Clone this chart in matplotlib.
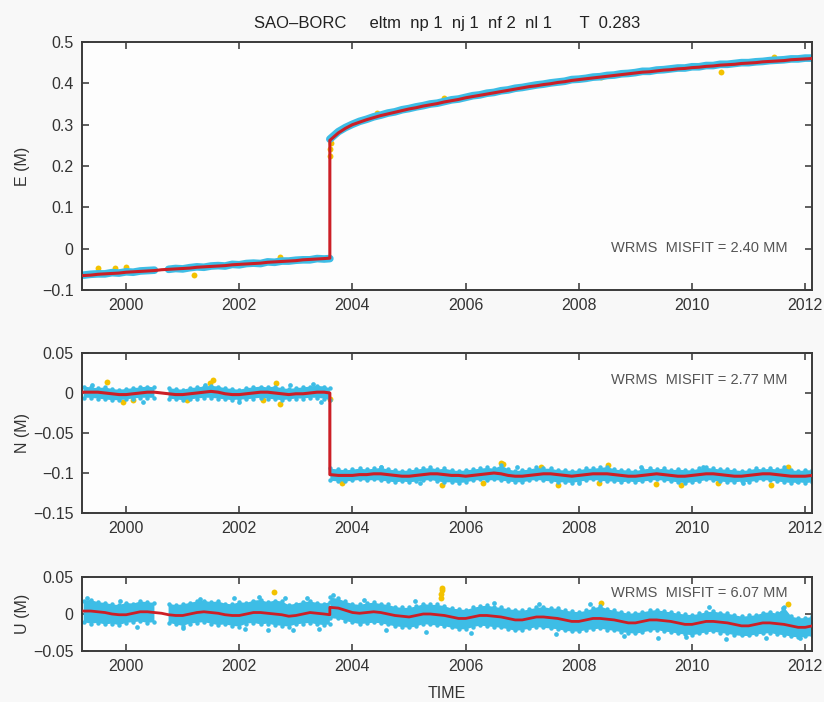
import numpy as np
import matplotlib
matplotlib.use("Agg")
import matplotlib.pyplot as plt

plt.rcParams["font.family"] = ["Liberation Sans", "DejaVu Sans"]

# sampling epochs (8 per year), split at the 2003.6 offset
EPOCHS_PRE = np.r_[np.arange(1999.25, 2003.51, 0.125), 2003.6]
EPOCHS_POST = np.r_[2003.6, np.arange(2003.75, 2012.13, 0.125)]
nan = np.nan

# ---- East ----
E_FIT_PRE = [-0.065, -0.064, -0.062, -0.061, -0.060, -0.059, -0.057, -0.056, -0.055, -0.054,
             -0.053, -0.051, -0.050, -0.049, -0.048, -0.047, -0.045, -0.044, -0.043, -0.042,
             -0.041, -0.039, -0.038, -0.037, -0.036, -0.035, -0.033, -0.032, -0.031, -0.030,
             -0.029, -0.027, -0.026, -0.025, -0.024, -0.023]
E_FIT_POST = [0.262, 0.280, 0.291,
              0.300, 0.306, 0.312, 0.317, 0.322, 0.326, 0.330, 0.334,
              0.338, 0.341, 0.345, 0.348, 0.351, 0.355, 0.358, 0.361,
              0.365, 0.368, 0.371, 0.374, 0.377, 0.380, 0.383, 0.386,
              0.389, 0.392, 0.394, 0.397, 0.399, 0.402, 0.404, 0.407,
              0.409, 0.411, 0.413, 0.415, 0.417, 0.419, 0.421, 0.423,
              0.425, 0.427, 0.428, 0.430, 0.432, 0.433, 0.435, 0.436,
              0.438, 0.439, 0.441, 0.442, 0.444, 0.445, 0.446, 0.448,
              0.449, 0.450, 0.452, 0.453, 0.454, 0.455, 0.457, 0.458,
              0.459, 0.460]
E_OBS_PRE = [-0.064, -0.062, -0.061, -0.061, -0.058, -0.059, -0.056, -0.057, -0.054, -0.053,
             -0.052, nan, -0.050, -0.048, -0.049, -0.046, -0.044, -0.045, -0.042, -0.041,
             -0.042, -0.038, -0.039, -0.036, -0.035, -0.036, -0.032, -0.033, -0.030, -0.030,
             -0.028, -0.027, -0.027, -0.024, -0.025, -0.024]
E_OBS_POST = [0.265, 0.283, 0.293, 0.301, 0.308, 0.313, 0.319, 0.323, 0.328, 0.331,
              0.336, 0.339, 0.343, 0.346, 0.350, 0.352, 0.356, 0.360, 0.362, 0.366,
              0.370, 0.372, 0.376, 0.378, 0.382, 0.384, 0.388, 0.390, 0.393, 0.396,
              0.398, 0.401, 0.403, 0.405, 0.409, 0.410, 0.412, 0.415, 0.416, 0.419,
              0.420, 0.423, 0.424, 0.426, 0.429, 0.429, 0.432, 0.433, 0.435, 0.437,
              0.437, 0.440, 0.440, 0.443, 0.443, 0.446, 0.446, 0.448, 0.450, 0.450,
              0.452, 0.453, 0.455, 0.456, 0.457, 0.459, 0.459, 0.461, 0.461]
E_OUT_T = [1999.5, 1999.8, 2000.0, 2001.2, 2002.72, 2003.61, 2003.61, 2003.62,
           2004.44, 2005.61, 2008.39, 2010.51, 2011.45]
E_OUT_V = [-0.047, -0.047, -0.045, -0.064, -0.020, 0.225, 0.240, 0.255,
           0.328, 0.364, 0.415, 0.427, 0.464]

# ---- North ----
N_FIT_PRE = [0.001, 0.001, 0.001, 0.000, -0.001, -0.002, -0.002, -0.001, 0.000, 0.001,
             0.001, 0.000, -0.001, -0.002, -0.002, -0.001, 0.000, 0.001, 0.002, 0.001,
             -0.001, -0.002, -0.002, -0.001, 0.000, 0.001, 0.001, 0.000, -0.001, -0.002,
             -0.001, -0.001, 0.000, 0.001, 0.001, 0.000]
N_HI_PRE = [0.008, 0.007, 0.006, 0.007, 0.005, 0.004, 0.005, 0.006, 0.007, 0.008,
            0.007, nan, 0.006, 0.005, 0.004, 0.006, 0.007, 0.008, 0.009, 0.008,
            0.006, 0.005, 0.004, 0.006, 0.007, 0.008, 0.007, 0.008, 0.006, 0.005,
            0.006, 0.007, 0.008, 0.009, 0.008, 0.006]
N_LO_PRE = [-0.006, -0.006, -0.007, -0.008, -0.009, -0.009, -0.008, -0.007, -0.006, -0.006,
            -0.006, nan, -0.007, -0.008, -0.009, -0.008, -0.007, -0.006, -0.006, -0.007,
            -0.008, -0.009, -0.008, -0.008, -0.007, -0.006, -0.007, -0.008, -0.009, -0.008,
            -0.007, -0.007, -0.006, -0.006, -0.007, -0.009]
N_FIT_POST = [-0.102, -0.103, -0.103,
              -0.103, -0.102, -0.102, -0.101, -0.101, -0.102, -0.103, -0.104,
              -0.104, -0.103, -0.102, -0.101, -0.101, -0.102, -0.103, -0.103,
              -0.104, -0.103, -0.102, -0.101, -0.100, -0.101, -0.103, -0.104,
              -0.104, -0.103, -0.102, -0.101, -0.101, -0.102, -0.103, -0.104,
              -0.103, -0.102, -0.101, -0.101, -0.101, -0.102, -0.103, -0.104,
              -0.104, -0.103, -0.102, -0.101, -0.102, -0.103, -0.104, -0.104,
              -0.103, -0.102, -0.101, -0.101, -0.102, -0.103, -0.104, -0.104,
              -0.103, -0.102, -0.101, -0.101, -0.102, -0.103, -0.104, -0.104,
              -0.104, -0.103]
N_HI_POST = [-0.094, -0.095, -0.096,
             -0.095, -0.094, -0.095, -0.094, -0.093, -0.095, -0.096, -0.097,
             -0.096, -0.095, -0.094, -0.093, -0.095, -0.094, -0.096, -0.097,
             -0.096, -0.095, -0.094, -0.093, -0.094, -0.090, -0.095, -0.097,
             -0.096, -0.095, -0.093, -0.094, -0.094, -0.096, -0.096, -0.097,
             -0.096, -0.094, -0.094, -0.093, -0.092, -0.095, -0.096, -0.096,
             -0.097, -0.095, -0.094, -0.095, -0.094, -0.096, -0.095, -0.096,
             -0.096, -0.094, -0.093, -0.094, -0.095, -0.095, -0.096, -0.097,
             -0.096, -0.094, -0.095, -0.094, -0.095, -0.093, -0.096, -0.097,
             -0.096, -0.096]
N_LO_POST = [-0.109, -0.110, -0.110,
             -0.109, -0.108, -0.109, -0.108, -0.109, -0.110, -0.111, -0.110,
             -0.111, -0.110, -0.109, -0.108, -0.110, -0.111, -0.111, -0.112,
             -0.111, -0.109, -0.108, -0.109, -0.108, -0.109, -0.110, -0.111,
             -0.111, -0.109, -0.108, -0.109, -0.110, -0.111, -0.111, -0.112,
             -0.110, -0.109, -0.108, -0.109, -0.110, -0.110, -0.111, -0.110,
             -0.111, -0.110, -0.109, -0.108, -0.109, -0.110, -0.111, -0.112,
             -0.111, -0.110, -0.108, -0.109, -0.110, -0.111, -0.111, -0.110,
             -0.111, -0.109, -0.108, -0.109, -0.110, -0.111, -0.112, -0.111,
             -0.112, -0.111]
N_STRAY_T = [1999.4, 2000.3, 2001.4, 2002.0, 2002.9, 2003.3, 2003.45,
             2004.5, 2005.2, 2006.9, 2008.0, 2009.1, 2010.2, 2010.9, 2011.85]
N_STRAY_V = [0.010, -0.011, 0.010, -0.011, 0.010, 0.011, -0.011,
             -0.093, -0.112, -0.092, -0.112, -0.093, -0.092, -0.113, -0.110]
N_OUT_T = [1999.66, 1999.95, 2000.12, 2001.08, 2001.48, 2001.54, 2002.41, 2002.64,
           2002.72, 2003.6, 2003.82, 2005.59, 2006.3, 2006.62, 2006.66, 2007.33,
           2007.63, 2008.35, 2008.51, 2009.36, 2009.8, 2010.46, 2011.4, 2011.7]
N_OUT_V = [0.014, -0.011, -0.009, -0.009, 0.013, 0.016, -0.009, 0.0125,
           -0.014, -0.008, -0.1125, -0.115, -0.1125, -0.0875, -0.089, -0.0925,
           -0.115, -0.1125, -0.090, -0.114, -0.115, -0.1125, -0.115, -0.0925]

# ---- Up ----
U_FIT_PRE = [0.004, 0.004, 0.003, 0.002, 0.000, -0.001, -0.001, 0.001, 0.003, 0.003,
             0.002, 0.001, -0.001, -0.002, -0.002, 0.000, 0.002, 0.003, 0.002, 0.001,
             -0.001, -0.002, -0.002, 0.000, 0.002, 0.002, 0.001, 0.000, -0.001, -0.003,
             -0.002, 0.000, 0.002, 0.001, 0.000, -0.001]
U_HI_PRE = [0.018, 0.019, 0.016, 0.015, 0.013, 0.012, 0.015, 0.014, 0.017, 0.016,
            0.015, nan, 0.014, 0.012, 0.013, 0.015, 0.017, 0.018, 0.016, 0.017,
            0.014, 0.013, 0.016, 0.015, 0.018, 0.019, 0.016, 0.018, 0.017, 0.012,
            0.014, 0.016, 0.017, 0.015, 0.014, 0.016]
U_LO_PRE = [-0.011, -0.013, -0.012, -0.014, -0.013, -0.015, -0.012, -0.011, -0.010, -0.012,
            -0.011, nan, -0.012, -0.014, -0.016, -0.013, -0.012, -0.011, -0.013, -0.015,
            -0.014, -0.016, -0.017, -0.013, -0.012, -0.014, -0.013, -0.015, -0.016, -0.017,
            -0.014, -0.013, -0.012, -0.014, -0.015, -0.014]
U_FIT_POST = [0.009, 0.008, 0.005,
              0.002, 0.001, 0.002, 0.003, 0.002, 0.000, -0.002, -0.003,
              -0.004, -0.002, 0.000, 0.000, -0.001, -0.002, -0.004, -0.006,
              -0.006, -0.004, -0.002, -0.002, -0.003, -0.004, -0.006, -0.008,
              -0.008, -0.006, -0.004, -0.004, -0.005, -0.006, -0.008, -0.010,
              -0.010, -0.008, -0.006, -0.006, -0.007, -0.008, -0.010, -0.012,
              -0.012, -0.010, -0.008, -0.008, -0.009, -0.010, -0.012, -0.014,
              -0.014, -0.012, -0.010, -0.010, -0.011, -0.012, -0.014, -0.016,
              -0.016, -0.014, -0.012, -0.012, -0.013, -0.014, -0.016, -0.018,
              -0.018, -0.016]
U_HI_POST = [0.023, 0.021, 0.017,
             0.014, 0.013, 0.015, 0.016, 0.014, 0.013, 0.010, 0.009,
             0.009, 0.011, 0.014, 0.013, 0.013, 0.011, 0.008, 0.007,
             0.006, 0.009, 0.011, 0.012, 0.010, 0.009, 0.007, 0.006,
             0.005, 0.007, 0.009, 0.010, 0.008, 0.008, 0.005, 0.004,
             0.003, 0.005, 0.008, 0.011, 0.007, 0.005, 0.003, 0.001,
             0.002, 0.003, 0.005, 0.006, 0.004, 0.003, 0.001, 0.000,
             -0.001, 0.001, 0.003, 0.004, 0.002, 0.001, -0.001, -0.003,
             -0.002, -0.001, 0.002, 0.003, 0.001, 0.009, -0.003, -0.005,
             -0.005, -0.003]
U_LO_POST = [-0.005, -0.006, -0.009,
             -0.011, -0.013, -0.012, -0.011, -0.012, -0.014, -0.016, -0.017,
             -0.018, -0.016, -0.013, -0.014, -0.015, -0.016, -0.018, -0.020,
             -0.020, -0.017, -0.015, -0.016, -0.017, -0.018, -0.020, -0.022,
             -0.021, -0.019, -0.017, -0.018, -0.019, -0.020, -0.022, -0.023,
             -0.023, -0.021, -0.020, -0.019, -0.021, -0.022, -0.024, -0.025,
             -0.026, -0.024, -0.022, -0.021, -0.023, -0.024, -0.026, -0.027,
             -0.028, -0.026, -0.024, -0.023, -0.025, -0.026, -0.028, -0.029,
             -0.029, -0.027, -0.026, -0.025, -0.027, -0.028, -0.030, -0.031,
             -0.030, -0.029]
U_STRAY_T = [1999.3, 1999.9, 2000.2, 2001.0, 2001.3, 2001.9, 2002.1, 2002.35, 2002.5,
             2002.8, 2002.95, 2003.2, 2003.4, 2003.65, 2004.2, 2004.6, 2005.1, 2005.3,
             2006.1, 2006.5, 2007.3, 2007.6, 2008.2, 2008.8, 2009.4, 2009.9, 2010.3,
             2010.6, 2011.3, 2011.6, 2011.9]
U_STRAY_V = [0.021, 0.018, -0.018, -0.019, 0.020, 0.021, -0.020, 0.023, -0.021,
             0.021, -0.022, 0.022, -0.020, 0.025, 0.019, -0.022, 0.017, -0.024,
             -0.025, 0.015, 0.014, -0.027, 0.013, -0.030, -0.032, -0.031, 0.009,
             -0.034, -0.033, 0.008, -0.033]
U_OUT_T = [2002.62, 2005.56, 2005.57, 2005.58, 2005.59, 2008.39, 2011.7]
U_OUT_V = [0.030, 0.022, 0.027, 0.032, 0.035, 0.015, 0.0135]

X_TICKS = [2000, 2002, 2004, 2006, 2008, 2010, 2012]
E_YTICKS = [-0.1, 0, 0.1, 0.2, 0.3, 0.4, 0.5]
E_YLABELS = ["\u22120.1", "0", "0.1", "0.2", "0.3", "0.4", "0.5"]
N_YTICKS = [-0.15, -0.1, -0.05, 0, 0.05]
N_YLABELS = ["\u22120.15", "\u22120.1", "\u22120.05", "0", "0.05"]
U_YTICKS = [-0.05, 0, 0.05]
U_YLABELS = ["\u22120.05", "0", "0.05"]

TITLE = "SAO\u2013BORC     eltm  np 1  nj 1  nf 2  nl 1      T  0.283"

CYAN = "#3dbde6"
RED = "#cc1f26"
YELLOW = "#f3c200"
GRAY_TXT = "#555555"


def style_axes(ax, yticks, ylabels, ylim, ylabel):
    ax.set_xlim(1999.22, 2012.12)
    ax.set_ylim(*ylim)
    ax.set_xticks(X_TICKS)
    ax.set_xticklabels([str(x) for x in X_TICKS])
    ax.set_yticks(yticks)
    ax.set_yticklabels(ylabels)
    ax.tick_params(direction="in", top=True, right=True, length=5, width=1.1,
                   labelsize=11.5, colors="#333333", pad=6)
    for s in ax.spines.values():
        s.set_color("#3a3a3a")
        s.set_linewidth(1.4)
    ax.set_facecolor("#fdfdfd")
    ax.set_ylabel(ylabel, fontsize=11.5, color="#333333")
    ax.yaxis.set_label_coords(-0.071, 0.5)


def band_panel(ax, hi_pre, lo_pre, hi_post, lo_post, stray_t, stray_v):
    # cyan cloud of daily solutions: filled envelope with dotted edges
    for t, hi, lo in [(EPOCHS_PRE, hi_pre, lo_pre), (EPOCHS_POST, hi_post, lo_post)]:
        hi = np.array(hi, dtype=float)
        lo = np.array(lo, dtype=float)
        ax.fill_between(t, lo, hi, color=CYAN, lw=0, zorder=2)
        ax.plot(t, hi, "o", ms=3.2, color=CYAN, mew=0, zorder=2)
        ax.plot(t, lo, "o", ms=3.2, color=CYAN, mew=0, zorder=2)
    ax.plot(stray_t, stray_v, "o", ms=3.4, color=CYAN, mew=0, zorder=2)


fig = plt.figure(figsize=(8.24, 7.02), dpi=100)
fig.patch.set_facecolor("#f8f8f8")

ax_e = fig.add_axes([0.0995, 0.5869, 0.8859, 0.3533])
ax_n = fig.add_axes([0.0995, 0.2692, 0.8859, 0.2280])
ax_u = fig.add_axes([0.0995, 0.0726, 0.8859, 0.1055])

# East panel
ax_e.scatter(E_OUT_T, E_OUT_V, s=18, color=YELLOW, lw=0, zorder=1)
ax_e.plot(EPOCHS_PRE, E_OBS_PRE, color=CYAN, lw=5.5, solid_capstyle="round", zorder=2)
ax_e.plot(EPOCHS_POST, E_OBS_POST, color=CYAN, lw=5.5, solid_capstyle="round", zorder=2)
ax_e.plot(np.r_[EPOCHS_PRE, EPOCHS_POST], E_FIT_PRE + E_FIT_POST, color=RED, lw=2.2, zorder=3)
style_axes(ax_e, E_YTICKS, E_YLABELS, (-0.1, 0.5), "E (M)")
ax_e.text(0.966, 0.17, "WRMS  MISFIT = 2.40 MM", transform=ax_e.transAxes,
          ha="right", va="center", fontsize=10.5, color=GRAY_TXT)
ax_e.set_title(TITLE, fontsize=12, color="#222222", pad=10)

# North panel
ax_n.scatter(N_OUT_T, N_OUT_V, s=18, color=YELLOW, lw=0, zorder=1)
band_panel(ax_n, N_HI_PRE, N_LO_PRE, N_HI_POST, N_LO_POST, N_STRAY_T, N_STRAY_V)
ax_n.plot(np.r_[EPOCHS_PRE, EPOCHS_POST], N_FIT_PRE + N_FIT_POST, color=RED, lw=2.2, zorder=3)
style_axes(ax_n, N_YTICKS, N_YLABELS, (-0.15, 0.05), "N (M)")
ax_n.text(0.966, 0.83, "WRMS  MISFIT = 2.77 MM", transform=ax_n.transAxes,
          ha="right", va="center", fontsize=10.5, color=GRAY_TXT)

# Up panel
ax_u.scatter(U_OUT_T, U_OUT_V, s=18, color=YELLOW, lw=0, zorder=1)
band_panel(ax_u, U_HI_PRE, U_LO_PRE, U_HI_POST, U_LO_POST, U_STRAY_T, U_STRAY_V)
ax_u.plot(np.r_[EPOCHS_PRE, EPOCHS_POST], U_FIT_PRE + U_FIT_POST, color=RED, lw=2.0, zorder=3)
style_axes(ax_u, U_YTICKS, U_YLABELS, (-0.05, 0.05), "U (M)")
ax_u.text(0.966, 0.78, "WRMS  MISFIT = 6.07 MM", transform=ax_u.transAxes,
          ha="right", va="center", fontsize=10.5, color=GRAY_TXT, zorder=5)
ax_u.set_xlabel("TIME", fontsize=11.5, color="#333333")
ax_u.xaxis.set_label_coords(0.5, -0.47)

fig.savefig("out.png", dpi=100, facecolor=fig.get_facecolor())
